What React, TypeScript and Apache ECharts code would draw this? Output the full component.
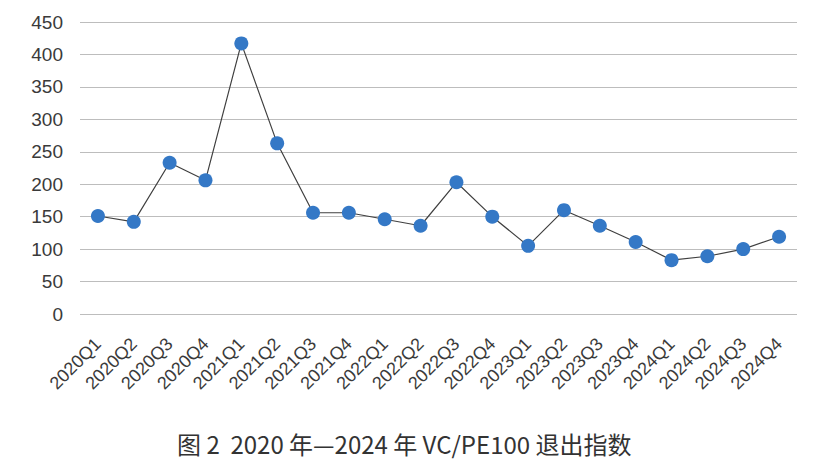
import React, { useEffect, useRef } from "react";
import * as echarts from "echarts";

const categories = [
  "2020Q1", "2020Q2", "2020Q3", "2020Q4",
  "2021Q1", "2021Q2", "2021Q3", "2021Q4",
  "2022Q1", "2022Q2", "2022Q3", "2022Q4",
  "2023Q1", "2023Q2", "2023Q3", "2023Q4",
  "2024Q1", "2024Q2", "2024Q3", "2024Q4",
];
const exitIndex = [151, 142, 233, 206, 417, 263, 156, 156, 146, 136, 203, 150, 105, 160, 136, 111, 83, 89, 100, 119];
const titleText = "图 2  2020 年—2024 年 VC/PE100 退出指数";

export default function App() {
  const ref = useRef<HTMLDivElement>(null);
  useEffect(() => {
    const chart = echarts.init(ref.current!, null, { renderer: "svg" });
    chart.setOption({
      animation: false,
      backgroundColor: "#ffffff",
      title: {
        text: titleText,
        left: 172,
        top: 426,
        textStyle: {
          fontFamily: "Noto Sans CJK SC",
          fontSize: 24,
          fontWeight: "normal",
          color: "#333333",
        },
      },
      grid: { left: 80, right: 41, top: 22, bottom: 161 },
      xAxis: {
        type: "category",
        data: categories,
        boundaryGap: true,
        axisLine: { show: false },
        axisTick: { show: false },
        axisLabel: {
          rotate: 45,
          interval: 0,
          margin: 27,
          fontFamily: "Liberation Sans",
          fontSize: 18,
          color: "#3a3a3a",
        },
      },
      yAxis: {
        type: "value",
        min: 0,
        max: 450,
        interval: 50,
        axisLine: { show: false },
        axisTick: { show: false },
        axisLabel: {
          margin: 17,
          fontFamily: "Liberation Sans",
          fontSize: 19,
          color: "#3a3a3a",
        },
        splitLine: { lineStyle: { color: "#bdbdbd", width: 1 } },
      },
      series: [
        {
          type: "line",
          data: exitIndex,
          symbol: "circle",
          symbolSize: 14,
          itemStyle: { color: "#3478c6" },
          lineStyle: { color: "#404040", width: 1.2 },
        },
      ],
    });
    return () => chart.dispose();
  }, []);
  return (
    <div
      ref={ref}
      style={{ position: "fixed", left: 0, top: 0, width: 838, height: 475 }}
    />
  );
}
